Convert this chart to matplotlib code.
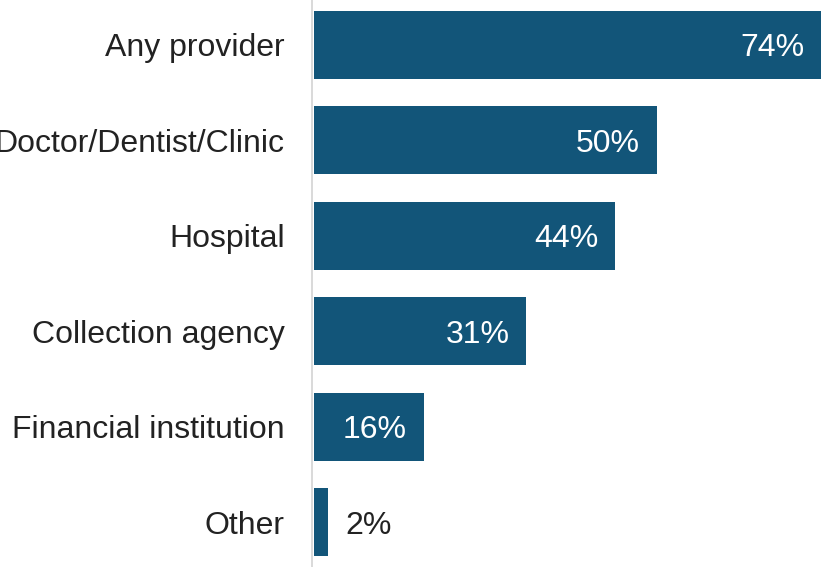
import matplotlib.pyplot as plt

plt.rcParams["font.family"] = ["Liberation Sans", "DejaVu Sans"]

categories = ["Any provider", "Doctor/Dentist/Clinic", "Hospital",
              "Collection agency", "Financial institution", "Other"]
shares = [74, 50, 44, 31, 16, 2]

bar_color = "#125579"
text_color = "#222222"
fsize = 23

fig = plt.figure(figsize=(8.21, 5.67), dpi=100)
ax = fig.add_axes([314 / 821, 0, 1 - 314 / 821, 1])

ypos = list(range(len(categories)))
ax.barh(ypos, shares, height=0.71, color=bar_color)

ax.set_xlim(0, 74)
ax.set_ylim(len(categories) - 0.53, -0.47)

ax.set_yticks(ypos)
ax.set_yticklabels(categories)
ax.tick_params(axis="y", length=0, pad=20, labelsize=fsize, labelcolor=text_color)
ax.set_xticks([])

for side in ["top", "right", "bottom"]:
    ax.spines[side].set_visible(False)
ax.spines["left"].set_color("#d9d9d9")
ax.spines["left"].set_linewidth(1.4)
ax.spines["left"].set_position(("outward", 1.2))

# labels inside long bars, outside the short one
for y, v in zip(ypos, shares):
    if v >= 10:
        ax.annotate(f"{v}%", xy=(v, y), xytext=(-17, 0), textcoords="offset pixels",
                    ha="right", va="center_baseline", fontsize=fsize, color="white")
    else:
        ax.annotate(f"{v}%", xy=(v, y), xytext=(18, 0), textcoords="offset pixels",
                    ha="left", va="center_baseline", fontsize=fsize, color=text_color)

fig.savefig("out.png", dpi=100)
